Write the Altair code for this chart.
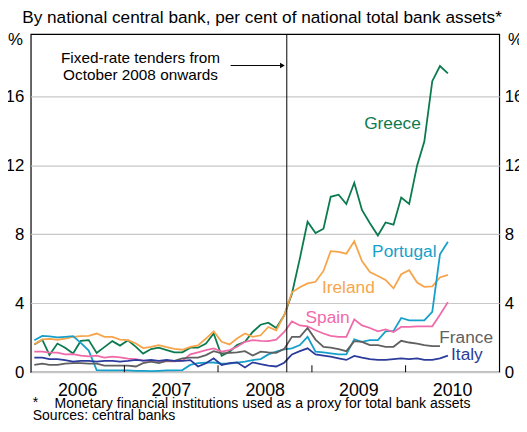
import altair as alt
import pandas as pd

FONT = "Liberation Sans"

# ---- data ----
months = pd.date_range("2006-01-01", periods=54, freq="MS") + pd.Timedelta(days=14)

countries = ["Greece", "Ireland", "Portugal", "Spain", "France", "Italy"]
colors = ["#0b7a4e", "#f7a54b", "#169fca", "#f06aaa", "#606060", "#2c3c9c"]

greece = [1.60, 1.88, 1.00, 1.66, 1.42, 1.08, 1.81, 1.86, 1.12, 1.45, 1.80, 1.54,
          1.85, 1.47, 1.08, 1.34, 1.42, 1.28, 1.15, 1.15, 1.42, 1.42, 1.66, 2.24,
          0.95, 1.19, 1.57, 1.76, 2.33, 2.75, 2.87, 2.56, 3.30, 4.55, 6.60, 8.72,
          8.07, 8.32, 10.17, 10.29, 9.75, 10.98, 9.41, 8.64, 7.92, 8.68, 8.55, 10.12,
          9.75, 11.99, 13.37, 16.87, 17.75, 17.33]
ireland = [1.62, 1.90, 1.93, 1.88, 1.95, 2.05, 2.09, 2.10, 2.24, 2.05, 2.05, 1.89,
           1.86, 1.66, 1.40, 1.47, 1.57, 1.45, 1.35, 1.30, 1.47, 1.55, 1.95, 2.37,
           1.76, 1.61, 1.95, 2.24, 2.05, 2.14, 2.62, 2.43, 3.30, 4.63, 4.92, 5.15,
           5.24, 5.87, 7.02, 6.98, 6.87, 7.59, 6.44, 5.81, 5.58, 5.35, 4.86, 5.68,
           5.91, 5.20, 4.95, 4.97, 5.49, 5.64]
portugal = [1.85, 2.10, 2.08, 2.02, 2.05, 2.09, 1.70, 1.25, 0.12, 0.10, 0.10, 0.10,
            0.10, 0.08, 0.08, 0.06, 0.08, 0.10, 0.10, 0.12, 0.42, 0.52, 0.55, 0.56,
            0.50, 0.50, 0.55, 0.61, 0.70, 0.76, 1.03, 1.19, 1.32, 1.38, 1.57, 2.05,
            1.19, 1.15, 1.09, 1.03, 1.03, 1.91, 1.76, 1.86, 1.86, 2.37, 2.39, 3.14,
            3.00, 3.00, 3.00, 3.50, 6.83, 7.56]
spain = [1.19, 1.19, 1.13, 1.13, 1.03, 1.05, 0.96, 0.92, 0.96, 0.84, 0.90, 0.86,
         0.78, 0.76, 0.67, 0.65, 0.65, 0.62, 0.62, 0.67, 1.03, 1.15, 1.28, 1.38,
         1.19, 1.28, 1.47, 1.76, 1.86, 1.82, 1.80, 1.89, 2.33, 2.94, 2.71, 2.66,
         2.43, 2.24, 2.10, 2.05, 2.05, 3.06, 2.71, 2.56, 2.37, 2.48, 2.33, 2.62,
         2.62, 2.66, 2.66, 2.66, 3.33, 4.06]
france = [0.42, 0.50, 0.42, 0.42, 0.50, 0.52, 0.52, 0.50, 0.50, 0.38, 0.38, 0.38,
          0.38, 0.33, 0.52, 0.61, 0.52, 0.65, 0.65, 0.80, 0.84, 0.84, 0.99, 1.22,
          1.09, 1.12, 1.15, 1.22, 0.96, 1.19, 1.15, 1.12, 1.35, 2.05, 2.05, 2.56,
          1.89, 1.47, 1.42, 1.34, 1.22, 1.80, 1.76, 1.57, 1.57, 1.47, 1.47, 1.82,
          1.72, 1.66, 1.57, 1.51, 1.51, None]
italy = [0.84, 0.84, 0.76, 0.75, 0.70, 0.61, 0.65, 0.65, 0.61, 0.65, 0.65, 0.61,
         0.65, 0.71, 0.67, 0.71, 0.65, 0.71, 0.65, 0.65, 0.70, 0.33, 0.52, 0.80,
         0.42, 0.52, 0.57, 0.27, 0.57, 0.46, 0.38, 0.33, 0.55, 1.03, 1.22, 1.38,
         1.03, 0.96, 0.90, 0.80, 0.71, 0.94, 0.84, 0.76, 0.71, 0.71, 0.76, 0.80,
         0.76, 0.80, 0.71, 0.71, 0.80, 0.96]

series = {"Greece": greece, "Ireland": ireland, "Portugal": portugal,
          "Spain": spain, "France": france, "Italy": italy}

# series labels: (date, value)
label_dates = ["2009-11-11", "2009-05-23", "2009-12-27", "2009-03-03", "2010-08-25", "2010-08-28"]
label_values = [14.4, 4.88, 6.94, 3.16, 1.95, 0.98]

year_ticks = ["2007-01-01", "2008-01-01", "2009-01-01", "2010-01-01"]
y_ticks = [0, 4, 8, 12, 16]
event_date = "2008-09-25"

note_lines = ["Fixed-rate tenders from", "October 2008 onwards"]
note_values = [18.19, 17.21]
note_date = "2007-03-05"
arrow_start, arrow_end, arrow_y = "2008-02-19", "2008-09-08", 17.78

title_text = "By national central bank, per cent of national total bank assets*"
footnote_star = "*"
footnote_1 = "Monetary financial institutions used as a proxy for total bank assets"
footnote_2 = "Sources: central banks"

# ---- tables ----
rows = []
for name, vals in series.items():
    for d, v in zip(months, vals):
        if v is not None:
            rows.append({"date": d.strftime("%Y-%m-%d"), "value": v, "country": name})
df = pd.DataFrame(rows)

labels_df = pd.DataFrame({"date": label_dates, "value": label_values, "country": countries})
ticks_df = pd.DataFrame({"date": year_ticks, "lo": [0] * 4, "hi": [0.4] * 4})
event_df = pd.DataFrame({"date": [event_date]})
note_df = pd.DataFrame({"date": [note_date] * 2, "value": note_values, "text": note_lines})
arrow_df = pd.DataFrame({"d1": [arrow_start], "d2": [arrow_end], "y": [arrow_y]})
head_df = pd.DataFrame({"date": [arrow_end], "y": [arrow_y]})

xscale = alt.Scale(domain=["2006-01-01", "2011-01-01"])
yscale = alt.Scale(domain=[0, 19.6], nice=False)
cscale = alt.Scale(domain=countries, range=colors)

x_axis = alt.Axis(
    values=[alt.DateTime(year=y, month=7, date=1) for y in range(2006, 2011)],
    format="%Y", title=None, ticks=False, domain=False, grid=False,
    labelFont=FONT, labelFontSize=18, labelColor="black", labelPadding=10,
)
y_left = alt.Axis(
    values=y_ticks, title="%", titleAngle=0, titleX=-16, titleY=-3,
    titleBaseline="top", titleAlign="center", titleFont=FONT, titleFontSize=17,
    titleFontWeight="normal", titleColor="black",
    ticks=False, domain=False, grid=True, gridColor="#c8c8c8", gridWidth=1.2,
    labelFont=FONT, labelFontSize=17, labelColor="black", labelPadding=7,
)
y_right = alt.Axis(
    orient="right", values=y_ticks, title="%", titleAngle=0, titleX=16, titleY=-3,
    titleBaseline="top", titleAlign="center", titleFont=FONT, titleFontSize=17,
    titleFontWeight="normal", titleColor="black",
    ticks=False, domain=False, grid=False,
    labelFont=FONT, labelFontSize=17, labelColor="black", labelPadding=5,
)

lines = alt.Chart(df).mark_line(strokeWidth=1.8).encode(
    x=alt.X("date:T", scale=xscale, axis=x_axis),
    y=alt.Y("value:Q", scale=yscale, axis=y_left),
    color=alt.Color("country:N", scale=cscale, legend=None),
    detail="country:N",
)

event = alt.Chart(event_df).mark_rule(color="black", strokeWidth=1).encode(
    x=alt.X("date:T", scale=xscale),
)

arrow = alt.Chart(arrow_df).mark_rule(color="black", strokeWidth=1).encode(
    x=alt.X("d1:T", scale=xscale), x2="d2:T",
    y=alt.Y("y:Q", scale=yscale),
)
head = alt.Chart(head_df).mark_point(shape="triangle-right", filled=True, size=30,
                                     color="black", opacity=1).encode(
    x=alt.X("date:T", scale=xscale), y=alt.Y("y:Q", scale=yscale),
)

note = alt.Chart(note_df).mark_text(font=FONT, fontSize=15.5, color="black",
                                    align="center", baseline="middle").encode(
    x=alt.X("date:T", scale=xscale), y=alt.Y("value:Q", scale=yscale), text="text:N",
)

labels = alt.Chart(labels_df).mark_text(font=FONT, fontSize=17.5, align="center",
                                        baseline="middle").encode(
    x=alt.X("date:T", scale=xscale), y=alt.Y("value:Q", scale=yscale),
    text="country:N",
    color=alt.Color("country:N", scale=cscale, legend=None),
)

foot = alt.layer(
    alt.Chart().mark_text(text=footnote_star, font=FONT, fontSize=14.2, align="left",
                          baseline="middle", color="black").encode(
        x=alt.value(2), y=alt.value(373)),
    alt.Chart().mark_text(text=footnote_1, font=FONT, fontSize=14.2, align="left",
                          baseline="middle", color="black").encode(
        x=alt.value(24), y=alt.value(374)),
    alt.Chart().mark_text(text=footnote_2, font=FONT, fontSize=14.2, align="left",
                          baseline="middle", color="black").encode(
        x=alt.value(2), y=alt.value(386)),
)

base = alt.layer(lines, event, arrow, head, note, labels, foot)

right = alt.Chart(ticks_df).mark_rule(color="black", strokeWidth=1).encode(
    x=alt.X("date:T", scale=xscale),
    y=alt.Y("lo:Q", scale=yscale, axis=y_right),
    y2="hi:Q",
)

chart = alt.layer(base, right).resolve_scale(y="independent").properties(
    width=474, height=342,
    autosize=alt.AutoSizeParams(type="none"),
    padding={"left": 23, "top": 24, "right": 20, "bottom": 50},
    title=alt.TitleParams(title_text, font=FONT, fontSize=17.4, fontWeight="normal",
                          color="black", anchor="middle", offset=4, dx=-3),
).configure_view(stroke="black", strokeWidth=1.2)

chart.save("out.html", embed_options={"renderer": "svg", "actions": False})
